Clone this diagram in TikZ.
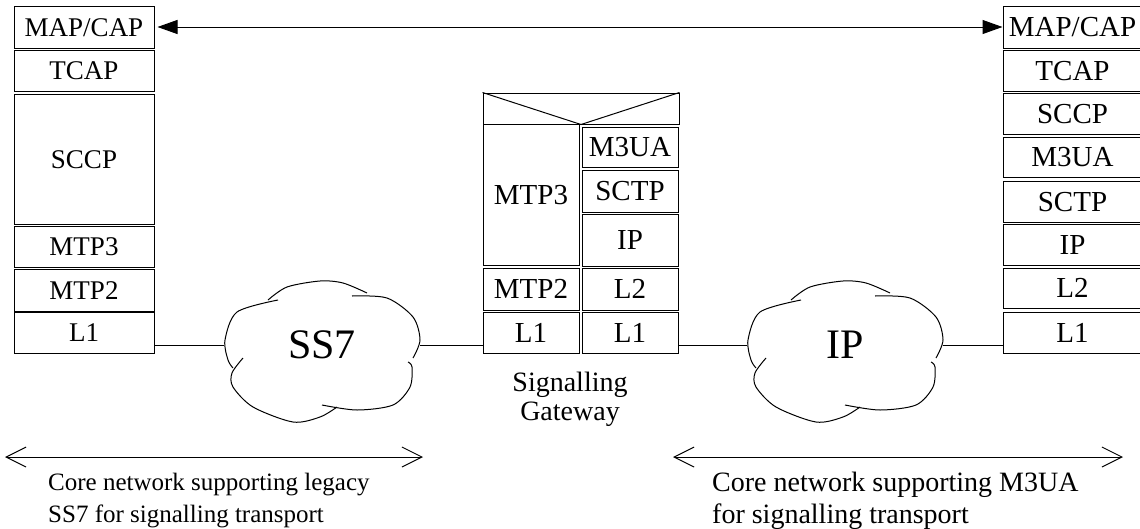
\documentclass[tikz,border=0pt]{standalone}
\usepackage{fontspec}
\setmainfont{Liberation Serif}
\usetikzlibrary{arrows.meta}
\newcommand{\mycloud}{%
  \draw[cloudline] plot[smooth] coordinates {(-44,-51) (-85,-39) (-97,-11) (-94,9) (-89,17)};
  \draw[cloudline] plot[smooth] coordinates {(-79,7) (-90,22) (-89,36) (-69,56) (-29,71) (-2,66) (15,56)};
  \draw[cloudline] plot[smooth] coordinates {(0,54) (35,59) (71,54) (88,36) (90,16) (86,11)};
  \draw[cloudline] plot[smooth] coordinates {(91,7) (98,-11) (91,-34) (65,-53) (30,-55)};
  \draw[cloudline] plot[smooth] coordinates {(45,-58) (21,-68) (-2,-70) (-35,-64) (-54,-51)};
}
\tikzset{
  box/.style={draw, line width=1pt, inner sep=0pt, text height=18pt, text depth=0pt},
  lbox/.style={box, minimum width=140pt, font=\fontsize{27}{30}\selectfont},
  rbox/.style={box, minimum width=139pt, font=\fontsize{29}{32}\selectfont, text height=19pt},
  gbox/.style={box, minimum width=96pt, font=\fontsize{29}{32}\selectfont, text height=19pt},
  netnode/.style={rectangle, inner sep=0pt, minimum width=196pt, font=\fontsize{42}{46}\selectfont},
  cloudline/.style={line width=1pt},
  link/.style={line width=1pt},
  toparrow/.style={line width=1pt, {Triangle[length=20pt,width=14pt]}-{Triangle[length=20pt,width=14pt]}},
  spanarrow/.style={line width=1pt, {Straight Barb[length=20pt,width=20pt]}-{Straight Barb[length=20pt,width=20pt]}},
}
\begin{document}
\begin{tikzpicture}[x=1pt, y=-1pt]
\useasboundingbox (0,0) rectangle (1140,528);
% left stack
\node[lbox, minimum height=42pt]  (lmap)  at (84,27)    {MAP/CAP};
\node[lbox, minimum height=41pt]  (ltcap) at (84,70.5)  {TCAP};
\node[lbox, minimum height=130pt] (lsccp) at (84,159)   {SCCP};
\node[lbox, minimum height=41pt]  (lmtp3) at (84,246.5) {MTP3};
\node[lbox, minimum height=42pt]  (lmtp2) at (84,290)   {MTP2};
\node[lbox, minimum height=41pt]  (ll1)   at (84,332.5) {L1};
% right stack
\node[rbox, minimum height=42pt] (rmap)  at (1072.5,27)    {MAP/CAP};
\node[rbox, minimum height=41pt] (rtcap) at (1072.5,70.5)  {TCAP};
\node[rbox, minimum height=41pt] (rsccp) at (1072.5,113.5) {SCCP};
\node[rbox, minimum height=40pt] (rm3ua) at (1072.5,157)   {M3UA};
\node[rbox, minimum height=41pt] (rsctp) at (1072.5,201.5) {SCTP};
\node[rbox, minimum height=41pt] (rip)   at (1072.5,244.5) {IP};
\node[rbox, minimum height=40pt] (rl2)   at (1072.5,288)   {L2};
\node[rbox, minimum height=41pt] (rl1)   at (1072.5,332.5) {L1};
% gateway
\node[box, minimum width=196pt, minimum height=31pt] (gtop) at (581,108.5) {};
\draw[line width=1pt] (gtop.north west) -- (gtop.south) -- (gtop.north east);
\node[gbox, minimum height=141pt] (gmtp3) at (531,195)   {MTP3};
\node[gbox, minimum height=40pt]  (gm3ua) at (630,147)   {M3UA};
\node[gbox, minimum height=42pt]  (gsctp) at (630,191)   {SCTP};
\node[gbox, minimum height=52pt]  (gip)   at (630,240)   {IP};
\node[gbox, minimum height=42pt]  (gmtp2) at (531,289)   {MTP2};
\node[gbox, minimum height=42pt]  (gl2)   at (630,289)   {L2};
\node[gbox, minimum height=41pt]  (gl1a)  at (531,332.5) {L1};
\node[gbox, minimum height=41pt]  (gl1b)  at (630,332.5) {L1};
\node[font=\fontsize{28}{29}\selectfont, align=center, anchor=north, inner sep=0pt] (sgw) at (570,372) {Signalling\\Gateway};
% clouds
\node[netnode] (ss7) at (322,345) {\raisebox{-5pt}{SS7}};
\node[netnode] (ipn) at (845,345) {\raisebox{-5pt}{IP}};
\begin{scope}[shift={(ss7.center)}]
  \begin{scope}[shift={(0,6)}]\mycloud\end{scope}
\end{scope}
\begin{scope}[shift={(ipn.center)}]
  \begin{scope}[shift={(0,6)}]\mycloud\end{scope}
\end{scope}
% links
\draw[link] (ll1.east |- ss7.west) -- (ss7.west);
\draw[link] (ss7.east) -- (gl1a.west |- ss7.east);
\draw[link] (gl1b.east |- ipn.west) -- (ipn.west);
\draw[link] (ipn.east) -- (rl1.west |- ipn.east);
% top arrow
\draw[toparrow, shorten <=3pt] (lmap.east) -- (rmap.west);
% span arrows
\coordinate (la1) at (5,457);
\coordinate (la2) at (423,457);
\coordinate (ra1) at (673,457);
\coordinate (ra2) at (1123,457);
\draw[spanarrow] (la1) -- (la2);
\draw[spanarrow] (ra1) -- (ra2);
\node[font=\fontsize{25}{32}\selectfont, align=left, anchor=north west, inner sep=0pt] (ltext) at (48,473) {Core network supporting legacy\\SS7 for signalling transport};
\node[font=\fontsize{28}{32}\selectfont, align=left, anchor=north west, inner sep=0pt] (rtext) at (712,472) {Core network supporting M3UA\\for signalling transport};
\end{tikzpicture}
\end{document}
